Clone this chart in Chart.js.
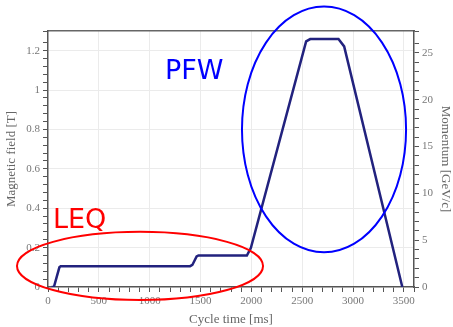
<!DOCTYPE html>
<html>
<head>
<meta charset="utf-8">
<script src="https://cdn.jsdelivr.net/npm/chart.js@4/dist/chart.umd.min.js"></script>
<style>
  html, body { margin: 0; padding: 0; background: #fff; }
  #wrap { width: 453px; height: 327px; position: relative; }
</style>
</head>
<body>
<div id="wrap"><canvas id="cycle_chart"></canvas></div>
<script>
// cycle data
const cycleTime = [35, 58, 112, 125, 1398, 1420, 1462, 1480, 1956, 1995, 2539, 2579, 2857, 2913, 3485];
const magneticField = [0, 0, 0.1, 0.106, 0.106, 0.112, 0.155, 0.16, 0.16, 0.198, 1.247, 1.259, 1.259, 1.222, 0];

const fieldMax = 1.3;
const momentumMax = 27.35;
const timeMax = 3600;

// annotations: [label, color, x ms, y T, rx ms, ry T] and text
const ellipses = [
  ["#ff0000", 905, 0.107, 1210, 0.173],
  ["#0000ff", 2715, 0.8, 807, 0.624],
];
const notes = [
  ["LEQ", "#ff0000", 49, 0.3],
  ["PFW", "#0000ff", 1151, 1.056],
];

const isMajor = (v, step) => Math.abs(v / step - Math.round(v / step)) < 1e-6;

Chart.defaults.font.family = "'Liberation Serif', serif";
Chart.defaults.color = "#777";

const gridColor = "#ebebeb";
const axisColor = "#555";

const annotate = {
  id: "annotate",
  afterDraw(chart) {
    const { ctx, scales } = chart;
    const x = scales.x, y = scales.y;
    ctx.save();
    ctx.lineWidth = 2;
    ellipses.forEach(([color, cx, cy, rx, ry]) => {
      const px = x.getPixelForValue(cx);
      const py = y.getPixelForValue(cy);
      const prx = x.getPixelForValue(cx + rx) - px;
      const pry = py - y.getPixelForValue(cy + ry);
      ctx.strokeStyle = color;
      ctx.beginPath();
      ctx.ellipse(px, py, prx, pry, 0, 0, Math.PI * 2);
      ctx.stroke();
    });
    ctx.font = "27px 'DejaVu Sans'";
    ctx.textBaseline = "alphabetic";
    notes.forEach(([text, color, tx, ty]) => {
      ctx.fillStyle = color;
      ctx.fillText(text, x.getPixelForValue(tx), y.getPixelForValue(ty));
    });
    ctx.restore();
  },
};

const ctx = document.getElementById("cycle_chart").getContext("2d");

new Chart(ctx, {
  type: "line",
  data: {
    datasets: [
      {
        data: cycleTime.map((t, i) => ({ x: t, y: magneticField[i] })),
        borderColor: "#22227e",
        borderWidth: 2.5,
        pointRadius: 0,
        tension: 0,
        fill: false,
        yAxisID: "y",
      },
    ],
  },
  options: {
    responsive: true,
    maintainAspectRatio: false,
    animation: false,
    layout: { padding: 0 },
    plugins: { legend: { display: false }, tooltip: { enabled: false } },
    scales: {
      x: {
        type: "linear",
        position: "bottom",
        min: 0,
        max: timeMax,
        afterFit: (s) => { s.height = 40; },
        ticks: {
          stepSize: 100,
          maxTicksLimit: 100,
          autoSkip: false,
          maxRotation: 0,
          padding: 3,
          font: { size: 11 },
          callback: (v) => (isMajor(v, 500) ? String(v) : ""),
        },
        grid: {
          tickLength: 5,
          color: (c) => (c.tick && isMajor(c.tick.value, 500) && c.tick.value > 0 ? gridColor : "rgba(0,0,0,0)"),
          tickColor: axisColor,
        },
        border: { color: axisColor, width: 1.5 },
        title: {
          display: true,
          text: "Cycle time [ms]",
          color: "#666",
          font: { size: 13 },
          padding: 0,
        },
      },
      x2: {
        type: "linear",
        position: "top",
        min: 0,
        max: timeMax,
        afterFit: (s) => { s.height = 31; },
        ticks: { display: false },
        grid: { display: false },
        border: { display: true, color: "#666", width: 1.5 },
      },
      y: {
        type: "linear",
        position: "left",
        min: 0,
        max: fieldMax,
        afterFit: (s) => { s.width = 48; },
        ticks: {
          stepSize: 0.04,
          maxTicksLimit: 100,
          autoSkip: false,
          padding: 3,
          font: { size: 11 },
          callback: (v) => (isMajor(v, 0.2) ? String(Math.round(v * 10) / 10) : ""),
        },
        grid: {
          tickLength: 5,
          color: (c) => (c.tick && isMajor(c.tick.value, 0.2) && c.tick.value > 0 ? gridColor : "rgba(0,0,0,0)"),
          tickColor: axisColor,
        },
        border: { color: axisColor, width: 1.5 },
        title: {
          display: true,
          text: "Magnetic field [T]",
          color: "#666",
          font: { size: 13 },
          padding: { top: 4, bottom: 0 },
        },
      },
      y1: {
        type: "linear",
        position: "right",
        min: 0,
        max: momentumMax,
        afterFit: (s) => { s.width = 39; },
        ticks: {
          stepSize: 1,
          maxTicksLimit: 100,
          autoSkip: false,
          padding: 3,
          font: { size: 11 },
          callback: (v) => (isMajor(v, 5) ? String(v) : ""),
        },
        grid: {
          drawOnChartArea: false,
          tickLength: 5,
          tickColor: axisColor,
        },
        border: { color: axisColor, width: 1.5 },
        title: {
          display: true,
          text: "Momentum [GeV/c]",
          color: "#666",
          font: { size: 13 },
          padding: 0,
        },
      },
    },
  },
  plugins: [annotate],
});
</script>
</body>
</html>
